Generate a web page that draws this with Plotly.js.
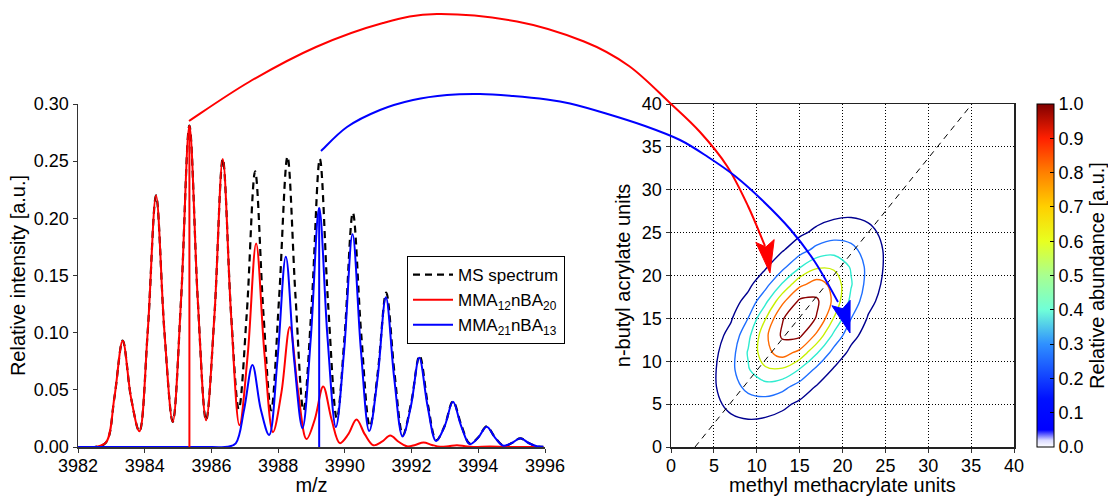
<!DOCTYPE html>
<html><head><meta charset="utf-8">
<script src="https://cdn.plot.ly/plotly-3.0.1.min.js"></script>
<style>html,body{margin:0;padding:0;background:#fff;}#chart{width:1108px;height:496px;}</style>
</head><body><div id="chart"></div>
<script>
// ---------- Left panel: mass spectrum ----------
const msMz = [3982,3982.5,3982.84,3983.09,3983.34,3983.59,3983.84,3984.09,3984.34,3984.59,3984.84,3985.09,3985.34,3985.59,3985.84,3986.09,3986.34,3986.59,3986.82,3987.06,3987.31,3987.56,3987.79,3988.03,3988.28,3988.52,3988.76,3989.01,3989.25,3989.50,3989.76,3989.99,3990.24,3990.49,3990.75,3990.99,3991.24,3991.49,3991.74,3991.99,3992.24,3992.49,3992.74,3992.99,3993.24,3993.49,3993.745,3994.0,3994.25,3994.5,3994.755,3995.01,3995.26,3995.51,3995.76,3995.95];
const msInt = [0,0,0.004,0.043,0.093,0.043,0.0137,0.101,0.220,0.101,0.022,0.129,0.281,0.129,0.0234,0.115,0.252,0.116,0.033,0.117,0.241,0.116,0.032,0.131,0.254,0.132,0.032,0.127,0.252,0.124,0.025,0.096,0.205,0.099,0.018,0.066,0.135,0.064,0.0107,0.039,0.080,0.037,0.006,0.0184,0.040,0.0193,0.003,0.0085,0.018,0.0085,0.0012,0.0035,0.0076,0.0035,0.0006,0.0002];

const redMz = [3982,3982.5,3982.84,3983.09,3983.34,3983.59,3983.84,3984.09,3984.34,3984.59,3984.84,3985.09,3985.34,3985.59,3985.84,3986.09,3986.34,3986.59,3986.84,3987.09,3987.34,3987.59,3987.845,3988.10,3988.35,3988.60,3988.85,3989.10,3989.35,3989.60,3989.85,3990.10,3990.35,3990.60,3990.855,3991.11,3991.36,3991.61,3991.86,3992.11,3992.36,3992.61,3992.86,3993.11,3993.36,3993.61,3993.86,3994.36,3994.86,3995.95];
const redInt = [0,0,0.004,0.043,0.093,0.043,0.0137,0.101,0.220,0.101,0.022,0.129,0.281,0.129,0.0234,0.115,0.252,0.115,0.019,0.0815,0.178,0.0815,0.013,0.048,0.105,0.048,0.0069,0.0243,0.053,0.0243,0.0034,0.011,0.024,0.011,0.0015,0.0046,0.010,0.0046,0.0006,0.0018,0.004,0.0018,0.0002,0.0007,0.0015,0.0007,0.0001,0.0005,0,0];

const blueMz = [3982,3986.0,3986.48,3986.73,3986.98,3987.23,3987.48,3987.73,3987.98,3988.23,3988.48,3988.73,3988.98,3989.23,3989.48,3989.73,3989.98,3990.23,3990.48,3990.73,3990.98,3991.23,3991.48,3991.73,3991.98,3992.23,3992.48,3992.735,3992.99,3993.24,3993.49,3993.745,3994.0,3994.25,3994.5,3994.755,3995.01,3995.26,3995.51,3995.76,3995.95];
const blueInt = [0,0,0.0002,0.0032,0.0328,0.0717,0.0328,0.0105,0.0763,0.1665,0.0763,0.0165,0.0957,0.209,0.0957,0.0174,0.0852,0.186,0.0852,0.0139,0.060,0.131,0.060,0.0092,0.0357,0.078,0.0357,0.0052,0.0181,0.0395,0.0181,0.0025,0.0082,0.0178,0.0082,0.0011,0.0035,0.0076,0.0035,0.0006,0.0002];

// selected peaks (sticks): [red, blue]
const stickMz  = [3985.34, 3989.23];
const stickInt = [0.281, 0.209];

const seriesNames = ['MS spectrum', 'MMA<sub>12</sub>nBA<sub>20</sub>', 'MMA<sub>21</sub>nBA<sub>13</sub>'];
const mzTicks  = [3982,3984,3986,3988,3990,3992,3994,3996];
const intTicks = [0,0.05,0.10,0.15,0.20,0.25,0.30];

// ---------- Right panel: composition distribution ----------
const mmaUnits = [1,3,5,7,9,11,13,15,17,19,21,23,25,27,29];
const nbaUnits = [1,3,5,7,9,11,13,15,17,19,21,23,25,27,29];
const abundance = [
 [0.006,0.014,0.026,0.036,0.036,0.026,0.014,0.006,0.002,0,0,0,0,0,0],
 [0.008,0.022,0.048,0.076,0.089,0.077,0.049,0.023,0.008,0.002,0,0,0,0,0],
 [0.008,0.028,0.071,0.131,0.179,0.179,0.132,0.072,0.029,0.009,0.002,0,0,0,0],
 [0.007,0.029,0.085,0.184,0.292,0.341,0.293,0.186,0.087,0.030,0.008,0.001,0,0,0],
 [0.005,0.024,0.083,0.209,0.386,0.525,0.526,0.388,0.211,0.084,0.025,0.005,0.001,0,0],
 [0.003,0.017,0.066,0.192,0.413,0.654,0.764,0.656,0.415,0.194,0.066,0.017,0.003,0,0],
 [0.002,0.009,0.042,0.143,0.359,0.662,0.899,0.900,0.664,0.360,0.144,0.042,0.009,0.001,0],
 [0.001,0.004,0.022,0.087,0.252,0.542,0.858,1.000,0.858,0.542,0.252,0.087,0.022,0.004,0.001],
 [0,0.001,0.009,0.042,0.144,0.360,0.664,0.900,0.899,0.662,0.359,0.143,0.042,0.009,0.002],
 [0,0,0.003,0.017,0.066,0.194,0.415,0.656,0.764,0.654,0.413,0.192,0.066,0.017,0.003],
 [0,0,0.001,0.005,0.025,0.084,0.211,0.388,0.526,0.525,0.386,0.209,0.083,0.024,0.005],
 [0,0,0,0.001,0.008,0.030,0.087,0.186,0.293,0.341,0.292,0.184,0.085,0.029,0.007],
 [0,0,0,0,0.002,0.009,0.029,0.072,0.132,0.179,0.179,0.131,0.071,0.028,0.008],
 [0,0,0,0,0,0.002,0.008,0.023,0.049,0.077,0.089,0.076,0.048,0.022,0.008],
 [0,0,0,0,0,0,0.002,0.006,0.014,0.026,0.036,0.036,0.026,0.014,0.006]
];
const contourLevels = [0.1, 0.25, 0.4, 0.55, 0.7, 0.87];
const contourColors = ['#000090','#1f6fff','#30ecd0','#c8f000','#ff6a00','#8b0000'];
const diagMma = [2.8, 35.1];
const diagNba = [0, 40];
const unitTicks = [0,5,10,15,20,25,30,35,40];
const cbTicks = [0,0.1,0.2,0.3,0.4,0.5,0.6,0.7,0.8,0.9,1.0];

const cbScale = [[0,'#ffffff'],[0.02,'#d8d8ff'],[0.05,'#0000ff'],[0.14,'#0010ff'],[0.3,'#2f90ff'],[0.4,'#70ffd8'],[0.5,'#a8ff90'],[0.6,'#e8ff20'],[0.7,'#ffd000'],[0.8,'#ff8000'],[0.9,'#ff2000'],[1,'#800000']];

// ---------- geometry ----------
const W = 1108, H = 496;
const FONT = 'Liberation Sans, Arial, Helvetica, sans-serif';
const TICK = 18, TITLE = 20;
const yDom = [1 - 447/H, 1 - 104/H];

const traces = [];
traces.push({x: msMz, y: msInt, type:'scatter', mode:'lines', name: seriesNames[0],
  line:{color:'#000', width:2.2, dash:'7px,5px', shape:'spline', smoothing:1}, xaxis:'x', yaxis:'y', hoverinfo:'skip'});
traces.push({x: redMz, y: redInt, type:'scatter', mode:'lines', name: seriesNames[1],
  line:{color:'#ff0000', width:2, shape:'spline', smoothing:1}, xaxis:'x', yaxis:'y', hoverinfo:'skip'});
traces.push({x: blueMz, y: blueInt, type:'scatter', mode:'lines', name: seriesNames[2],
  line:{color:'#0000ff', width:2, shape:'spline', smoothing:1}, xaxis:'x', yaxis:'y', hoverinfo:'skip'});
const stickColors = ['#ff0000','#0000ff'];
stickMz.forEach((m,i)=>{
  traces.push({x:[m,m], y:[0, stickInt[i]], type:'scatter', mode:'lines', showlegend:false,
    line:{color: stickColors[i], width:2}, xaxis:'x', yaxis:'y', hoverinfo:'skip'});
});

contourLevels.forEach((lv,i)=>{
  traces.push({type:'contour', x: mmaUnits, y: nbaUnits, z: abundance, xaxis:'x2', yaxis:'y2',
    autocontour:false, contours:{start:lv, end:lv, size:1, coloring:'none', showlabels:false},
    line:{color: contourColors[i], width:1.4, smoothing:1}, showscale:false, showlegend:false, hoverinfo:'skip'});
});
traces.push({x: diagMma, y: diagNba, type:'scatter', mode:'lines', xaxis:'x2', yaxis:'y2', showlegend:false,
  line:{color:'#000', width:1, dash:'6px,5px'}, hoverinfo:'skip'});
// colorbar carrier
traces.push({x:[null], y:[null], type:'scatter', mode:'markers', xaxis:'x2', yaxis:'y2', showlegend:false, hoverinfo:'skip',
  marker:{color:[0], cmin:0, cmax:1, colorscale: cbScale, showscale:true, size:1,
    colorbar:{x:1037/W, xanchor:'left', xpad:0, ypad:0, y:yDom[0], yanchor:'bottom', len:(yDom[1]-yDom[0]), lenmode:'fraction',
      thickness:17, thicknessmode:'pixels', outlinewidth:1, outlinecolor:'#000',
      tickvals: cbTicks, ticktext: cbTicks.map(v=>v.toFixed(1)), ticks:'inside', ticklen:4, tickcolor:'#000',
      tickfont:{size:TICK, family:FONT, color:'#000'},
      title:{text:'Relative abundance [a.u.]', side:'right', font:{size:TITLE, family:FONT, color:'#000'}}}}});

// ---------- curved arrows (paper coordinates from pixel guide points) ----------
function toPaper(p){ return [p[0]/W, 1 - p[1]/H]; }
function smoothPath(pts){
  let d = 'M' + toPaper(pts[0]).join(',');
  for (let i=0;i<pts.length-1;i++){
    const p0 = pts[i-1]||pts[i], p1 = pts[i], p2 = pts[i+1], p3 = pts[i+2]||pts[i+1];
    const c1 = [p1[0]+(p2[0]-p0[0])/6, p1[1]+(p2[1]-p0[1])/6];
    const c2 = [p2[0]-(p3[0]-p1[0])/6, p2[1]-(p3[1]-p1[1])/6];
    d += ' C' + toPaper(c1).join(',') + ' ' + toPaper(c2).join(',') + ' ' + toPaper(p2).join(',');
  }
  return d;
}
function headPath(base, tip, halfW, notch){
  const dx = tip[0]-base[0], dy = tip[1]-base[1], L = Math.hypot(dx,dy);
  const ux = dx/L, uy = dy/L, nx = -uy, ny = ux;
  const left = [base[0]+nx*halfW, base[1]+ny*halfW];
  const right = [base[0]-nx*halfW, base[1]-ny*halfW];
  const mid = [base[0]+ux*notch, base[1]+uy*notch];
  return 'M' + [tip,left,mid,right].map(p=>toPaper(p).join(',')).join(' L') + ' Z';
}
const redArc = [[189,121],[249,82],[316,47],[383,23],[437,14],[517,21.5],[584,41.5],[629,66],[670,103],[700,132],[727,166],[748,206],[765,246]];
const blueArc = [[321,151],[347,127],[380,110],[413,100],[447,95],[480,94],[513,96],[547,99.5],[570,103.5],[606,113.5],[645,126],[680,140],[708,157],[735,176],[762,200],[790,229],[815,262],[838,302]];
const shapes = [
  {type:'path', xref:'paper', yref:'paper', path: smoothPath(redArc), line:{color:'#ff0000', width:2}},
  {type:'path', xref:'paper', yref:'paper', path: headPath([765,241],[770,273],9.3,6), line:{color:'#ff0000', width:1}, fillcolor:'#ff0000'},
  {type:'path', xref:'paper', yref:'paper', path: smoothPath(blueArc), line:{color:'#0000ff', width:2}},
  {type:'path', xref:'paper', yref:'paper', path: headPath([841,303],[850,333],9.5,6), line:{color:'#0000ff', width:1}, fillcolor:'#0000ff'}
];

const axCommon = {ticks:'outside', ticklen:4, tickwidth:1, tickcolor:'#333', showline:true, linecolor:'#333', linewidth:1.5,
  zeroline:false, tickfont:{size:TICK, family:FONT, color:'#000'}, automargin:false};

const layout = {
  width:W, height:H, margin:{l:0,r:0,t:0,b:0}, paper_bgcolor:'#fff', plot_bgcolor:'#fff',
  font:{family:FONT, size:TICK, color:'#000'}, showlegend:true,
  xaxis: Object.assign({}, axCommon, {domain:[78/W, 545/W], range:[3982,3996], tickvals: mzTicks, showgrid:false, anchor:'y',
    ticklabelstandoff:-2, title:{text:'m/z', font:{size:TITLE, family:FONT}, standoff:3}}),
  yaxis: Object.assign({}, axCommon, {domain:yDom, range:[0,0.3], tickvals: intTicks, tickformat:'.2f', showgrid:false, anchor:'x',
    title:{text:'Relative intensity [a.u.]', font:{size:TITLE, family:FONT}, standoff:3}}),
  xaxis2: Object.assign({}, axCommon, {domain:[671/W, 1014/W], range:[0,40], tickvals: unitTicks, anchor:'y2', mirror:true,
    linecolor:'#222', showgrid:true, gridcolor:'#000', gridwidth:1, griddash:'1px,2px', ticklabelstandoff:-2,
    title:{text:'methyl methacrylate units', font:{size:TITLE, family:FONT}, standoff:3}}),
  yaxis2: Object.assign({}, axCommon, {domain:yDom, range:[0,40], tickvals: unitTicks, anchor:'x2', mirror:true,
    linecolor:'#222', showgrid:true, gridcolor:'#000', gridwidth:1, griddash:'1px,2px',
    title:{text:'n-butyl acrylate units', font:{size:TITLE, family:FONT}, standoff:6}}),
  legend:{x:407/W, y:1-256/H, xanchor:'left', yanchor:'top', bgcolor:'#fff', bordercolor:'#000', borderwidth:1,
    font:{size:17, family:FONT, color:'#000'}, itemwidth:40},
  shapes: shapes
};

Plotly.newPlot('chart', traces, layout, {staticPlot:true, displayModeBar:false});
</script>
</body></html>
